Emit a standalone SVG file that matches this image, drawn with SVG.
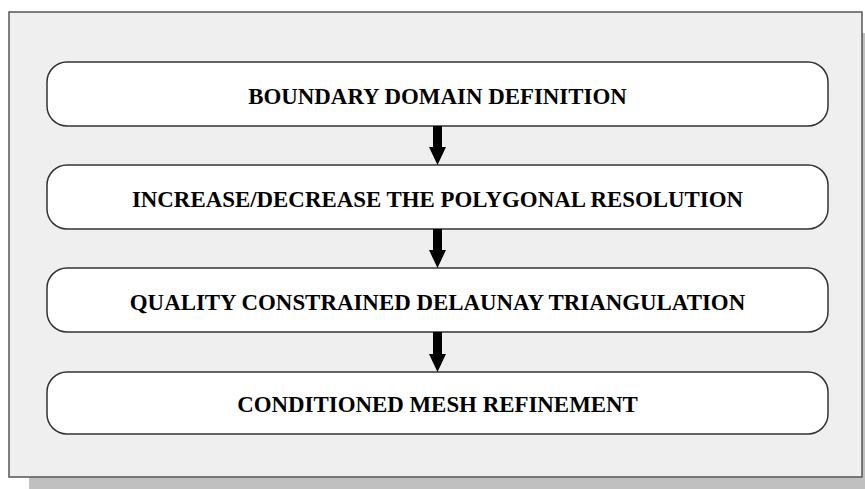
<svg xmlns="http://www.w3.org/2000/svg" width="865" height="489" viewBox="0 0 865 489">
<style>
.node{fill:#ffffff;stroke:#333333;stroke-width:1.5}
.lbl{font-family:"Liberation Serif","Times New Roman",serif;font-weight:bold;font-size:22.9px;fill:#000;text-anchor:middle}
.arr{fill:#000;stroke:none}
</style>
<rect x="0" y="0" width="865" height="489" fill="#ffffff"/>
<rect id="shadow" x="29" y="33" width="853" height="466" fill="#c0c0c0"/>
<rect id="frame" x="9" y="12" width="853" height="465" fill="#efefef" stroke="#555555" stroke-width="1.5"/>
<g id="node1"><rect class="node" x="47" y="62" width="781" height="64" rx="20" ry="20"/><text class="lbl" x="437.5" y="104">BOUNDARY DOMAIN DEFINITION</text></g>
<g id="node2"><rect class="node" x="47" y="165" width="781" height="64" rx="20" ry="20"/><text class="lbl" x="437.5" y="206.5">INCREASE/DECREASE THE POLYGONAL RESOLUTION</text></g>
<g id="node3"><rect class="node" x="47" y="268" width="781" height="64" rx="20" ry="20"/><text class="lbl" x="437.5" y="309.5">QUALITY CONSTRAINED DELAUNAY TRIANGULATION</text></g>
<g id="node4"><rect class="node" x="47" y="372" width="781" height="62" rx="20" ry="20"/><text class="lbl" x="437.5" y="412">CONDITIONED MESH REFINEMENT</text></g>
<g id="connectors">
<polygon class="arr" points="433,126 442,126 442,147 446,147 437.5,165 429,147 433,147"/>
<polygon class="arr" points="433,229 442,229 442,250 446,250 437.5,268 429,250 433,250"/>
<polygon class="arr" points="433,332 442,332 442,354 446,354 437.5,372 429,354 433,354"/>
</g>
</svg>
